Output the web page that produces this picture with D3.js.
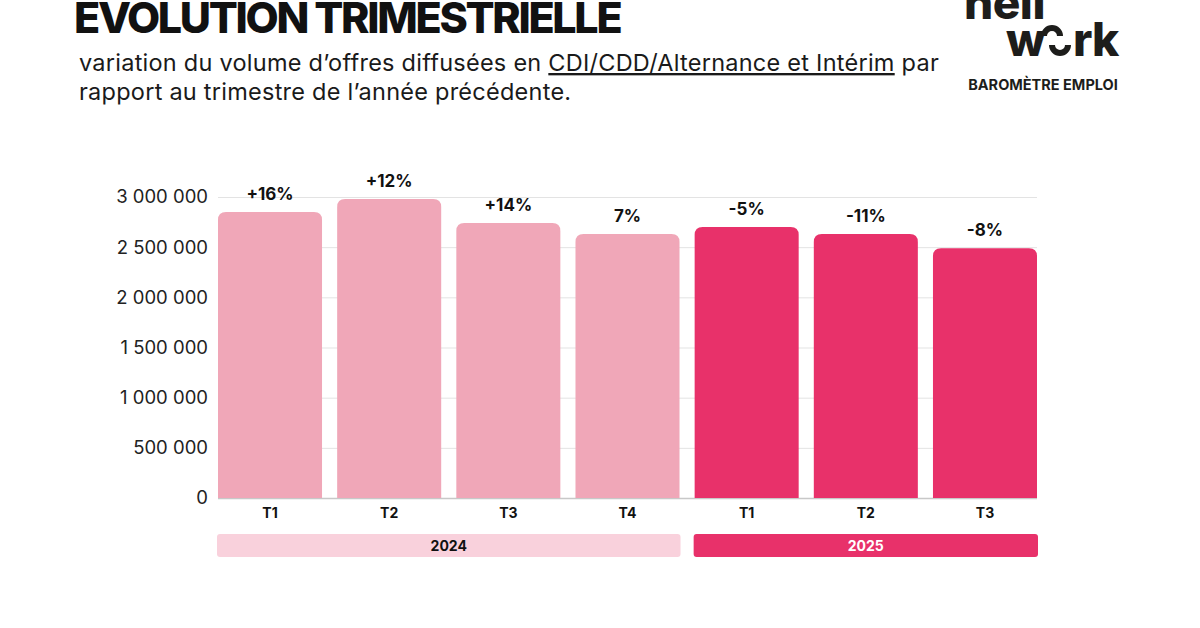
<!DOCTYPE html>
<html>
<head>
<meta charset="utf-8">
<script src="https://cdn.jsdelivr.net/npm/d3@7"></script>
<style>
  html, body { margin: 0; padding: 0; background: #fff; }
  svg { display: block; font-family: Inter, "Noto Sans", sans-serif; }
</style>
</head>
<body>
<div id="chart"></div>
<script>
var width = 1200,
    height = 628;

// data
var quarters = ["T1", "T2", "T3", "T4", "T1", "T2", "T3"];
var years = ["2024", "2024", "2024", "2024", "2025", "2025", "2025"];
var volumes = [2850000, 2980000, 2740000, 2630000, 2700000, 2630000, 2490000];
var variations = ["+16%", "+12%", "+14%", "7%", "-5%", "-11%", "-8%"];
var yearGroups = ["2024", "2025"];
var yTicks = [0, 500000, 1000000, 1500000, 2000000, 2500000, 3000000];

var pinkLight = "#f0a7b8",
    pinkDark = "#e8316a",
    pinkPale = "#f9d1dc";

var svg = d3.select("#chart").append("svg")
    .attr("width", width)
    .attr("height", height);

// title block
svg.append("text")
    .attr("x", 74)
    .attr("y", 33)
    .attr("font-size", 43)
    .attr("font-weight", 800)
    .attr("letter-spacing", -2.3)
    .attr("fill", "#111")
    .text("EVOLUTION TRIMESTRIELLE");

var sub = svg.append("text")
    .attr("font-size", 23.5)
    .attr("letter-spacing", 0.25)
    .attr("fill", "#1a1a1a");
var line1 = sub.append("tspan").attr("x", 79).attr("y", 71);
line1.append("tspan").text("variation du volume d\u2019offres diffus\u00e9es en ");
line1.append("tspan").attr("text-decoration", "underline").text("CDI/CDD/Alternance et Int\u00e9rim");
line1.append("tspan").text(" par");
sub.append("tspan").attr("x", 79).attr("y", 100).text("rapport au trimestre de l\u2019ann\u00e9e pr\u00e9c\u00e9dente.");

// logo
var logo = svg.append("g").attr("fill", "#1d1d1b");
logo.append("text")
    .attr("x", 964).attr("y", 19)
    .attr("font-size", 46).attr("font-weight", 800).attr("letter-spacing", -0.5)
    .text("hell");
logo.append("text")
    .attr("x", 1006).attr("y", 56)
    .attr("font-size", 46).attr("font-weight", 800)
    .text("w");
logo.append("text")
    .attr("x", 1073).attr("y", 56)
    .attr("font-size", 46).attr("font-weight", 800).attr("letter-spacing", -1)
    .text("rk");
var arc = d3.arc().innerRadius(5).outerRadius(11);
logo.append("path")
    .attr("transform", "translate(1052,36)")
    .attr("d", arc({startAngle: -Math.PI / 2, endAngle: Math.PI / 2}));
logo.append("path")
    .attr("transform", "translate(1060,45)")
    .attr("d", arc({startAngle: Math.PI / 2, endAngle: Math.PI * 1.5}));
svg.append("text")
    .attr("x", 1043).attr("y", 90)
    .attr("text-anchor", "middle")
    .attr("font-size", 14.5).attr("font-weight", 700)
    .attr("fill", "#1d1d1b")
    .text("BAROM\u00c8TRE EMPLOI");

// scales
var x = d3.scaleBand()
    .domain(d3.range(quarters.length))
    .range([218, 1037])
    .paddingInner(0.127)
    .paddingOuter(0);

var y = d3.scaleLinear()
    .domain([0, 3000000])
    .range([498, 197]);

var fr = d3.formatLocale({decimal: ",", thousands: " ", grouping: [3], currency: ["", " \u20ac"]});

var yAxis = svg.append("g")
    .attr("transform", "translate(218,0)")
    .call(d3.axisLeft(y)
        .tickValues(yTicks)
        .tickFormat(fr.format(",d"))
        .tickSizeInner(-(1037 - 218))
        .tickSizeOuter(0)
        .tickPadding(10));
yAxis.select(".domain").remove();
yAxis.selectAll(".tick line")
    .attr("stroke", function(d) { return d === 0 ? "#c8c8c8" : "#e3e3e3"; })
    .attr("stroke-width", function(d) { return d === 0 ? 1.5 : 1; });
yAxis.selectAll(".tick text")
    .attr("font-size", 18.5)
    .attr("font-family", "Inter, sans-serif")
    .attr("fill", "#222");

// bars with rounded top corners
function topRounded(x0, y0, w, h, r) {
  return "M" + x0 + "," + (y0 + h) +
    "V" + (y0 + r) +
    "Q" + x0 + "," + y0 + " " + (x0 + r) + "," + y0 +
    "H" + (x0 + w - r) +
    "Q" + (x0 + w) + "," + y0 + " " + (x0 + w) + "," + (y0 + r) +
    "V" + (y0 + h) + "Z";
}

var idx = d3.range(volumes.length);

svg.append("g").selectAll("path")
    .data(idx)
    .enter().append("path")
    .attr("fill", function(i) { return years[i] === "2024" ? pinkLight : pinkDark; })
    .attr("d", function(i) {
      return topRounded(x(i), y(volumes[i]), x.bandwidth(), y(0) - y(volumes[i]), 8);
    });

svg.append("g").selectAll("text")
    .data(idx)
    .enter().append("text")
    .attr("x", function(i) { return x(i) + x.bandwidth() / 2; })
    .attr("y", function(i) { return y(volumes[i]) - 12; })
    .attr("text-anchor", "middle")
    .attr("font-size", 17)
    .attr("font-weight", 700)
    .attr("fill", "#111")
    .text(function(i) { return variations[i]; });

// quarter labels
svg.append("g").selectAll("text")
    .data(idx)
    .enter().append("text")
    .attr("x", function(i) { return x(i) + x.bandwidth() / 2; })
    .attr("y", 518)
    .attr("text-anchor", "middle")
    .attr("font-size", 14)
    .attr("font-weight", 700)
    .attr("fill", "#111")
    .text(function(i) { return quarters[i]; });

// year bands
var bands = svg.append("g").selectAll("g")
    .data(yearGroups)
    .enter().append("g");

function yearExtent(yr) {
  var ids = idx.filter(function(i) { return years[i] === yr; });
  return [x(ids[0]) - 1, x(ids[ids.length - 1]) + x.bandwidth() + 1];
}

bands.append("rect")
    .attr("x", function(d) { return yearExtent(d)[0]; })
    .attr("width", function(d) { var e = yearExtent(d); return e[1] - e[0]; })
    .attr("y", 534)
    .attr("height", 23)
    .attr("rx", 3)
    .attr("fill", function(d, i) { return i === 0 ? pinkPale : pinkDark; });

bands.append("text")
    .attr("x", function(d) { var e = yearExtent(d); return (e[0] + e[1]) / 2; })
    .attr("y", 551)
    .attr("text-anchor", "middle")
    .attr("font-size", 14)
    .attr("font-weight", 700)
    .attr("fill", function(d, i) { return i === 0 ? "#111" : "#fff"; })
    .text(function(d) { return d; });
</script>
</body>
</html>
